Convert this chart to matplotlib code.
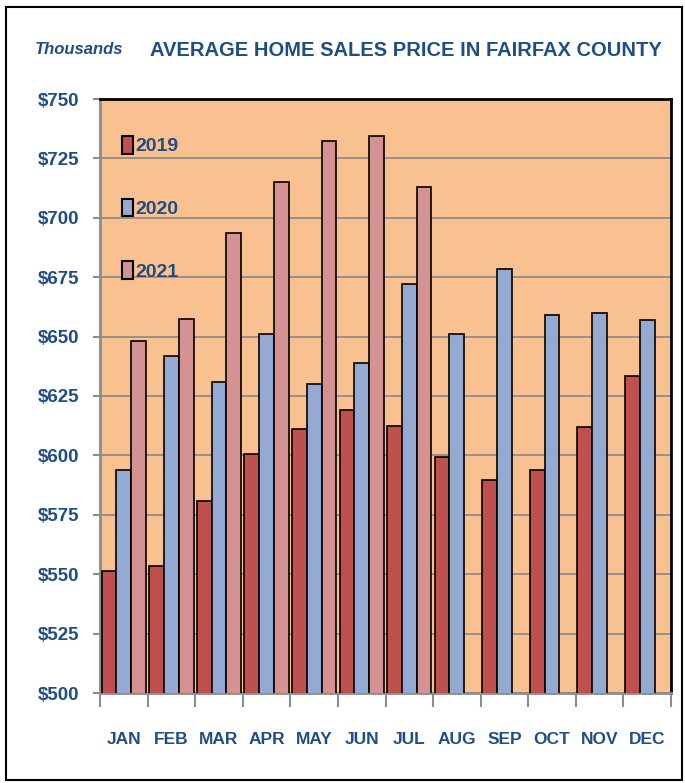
import numpy as np
import matplotlib.pyplot as plt
from matplotlib.patches import Rectangle, Patch

months = ["JAN", "FEB", "MAR", "APR", "MAY", "JUN", "JUL", "AUG", "SEP", "OCT", "NOV", "DEC"]
sales_2019 = [551.5, 553.5, 581, 600.5, 611, 619, 612.5, 599.5, 589.5, 594, 612, 633.5]
sales_2020 = [594, 642, 631, 651, 630, 639, 672, 651, 678.5, 659, 660, 657]
sales_2021 = [648, 657.5, 693.5, 715, 732.5, 734.5, 713]
yticks = [500, 525, 550, 575, 600, 625, 650, 675, 700, 725, 750]

navy = "#1F4E86"
c2019 = "#C0504D"
c2020 = "#95AAD2"
c2021 = "#D49292"
bg = "#F9C18F"

plt.rcParams['font.family'] = ['Liberation Sans', 'DejaVu Sans']

fig = plt.figure(figsize=(6.85, 7.83), dpi=100)
ax = fig.add_axes([100/685, 90/783, 571/685, 594/783])
ax.set_facecolor(bg)

x = np.arange(len(months)) + 0.5
w = 0.31
ax.bar(x - w, sales_2019, w, color=c2019, edgecolor="black", linewidth=1.2, zorder=3)
ax.bar(x, sales_2020, w, color=c2020, edgecolor="black", linewidth=1.2, zorder=3)
ax.bar(x[:len(sales_2021)] + w, sales_2021, w, color=c2021, edgecolor="black", linewidth=1.2, zorder=3)

ax.set_xlim(0, 12)
ax.set_ylim(500, 750)
ax.set_yticks(yticks)
ax.set_yticklabels(["$%d" % v for v in yticks], fontsize=13.5, fontweight="bold", color=navy)
ax.yaxis.grid(True, color="#8C8C8C", linewidth=1.3, zorder=1)
ax.set_axisbelow(True)

ax.set_xticks(np.arange(13))
ax.set_xticklabels([])
ax.set_xticks(x, minor=True)
ax.set_xticklabels(months, minor=True, fontsize=12.5, fontweight="bold", color=navy)
ax.tick_params(axis="x", which="major", length=10, width=1.5, color="#8C8C8C", direction="out")
ax.tick_params(axis="x", which="minor", length=0, pad=28)
ax.tick_params(axis="y", length=5, width=1.5, color="#8C8C8C", pad=10)

for s in ["left", "bottom"]:
    ax.spines[s].set_color("#8C8C8C")
    ax.spines[s].set_linewidth(2)
for s in ["top", "right"]:
    ax.spines[s].set_color("black")
    ax.spines[s].set_linewidth(2)

handles = [Patch(facecolor=c, edgecolor="black", linewidth=1.5) for c in (c2019, c2020, c2021)]
leg = ax.legend(handles, ["2019", "2020", "2021"], loc="upper left", bbox_to_anchor=(0.008, 0.967),
                frameon=False, handlelength=0.55, handleheight=1.0, handletextpad=0.15,
                labelspacing=2.22, prop={"size": 14, "weight": "bold"})
for t in leg.get_texts():
    t.set_color(navy)

fig.text(35/685, 1 - 50/783, "Thousands", fontsize=12, fontweight="bold", fontstyle="italic",
         color=navy, va="center", ha="left")
fig.text(150/685, 1 - 50/783, "AVERAGE HOME SALES PRICE IN FAIRFAX COUNTY", fontsize=14.5,
         fontweight="bold", color=navy, va="center", ha="left")

fig.patches.append(Rectangle((6/685, 3/783), 676/685, 773/783, transform=fig.transFigure,
                             fill=False, edgecolor="black", linewidth=1.5))

fig.savefig("out.png", dpi=100)
